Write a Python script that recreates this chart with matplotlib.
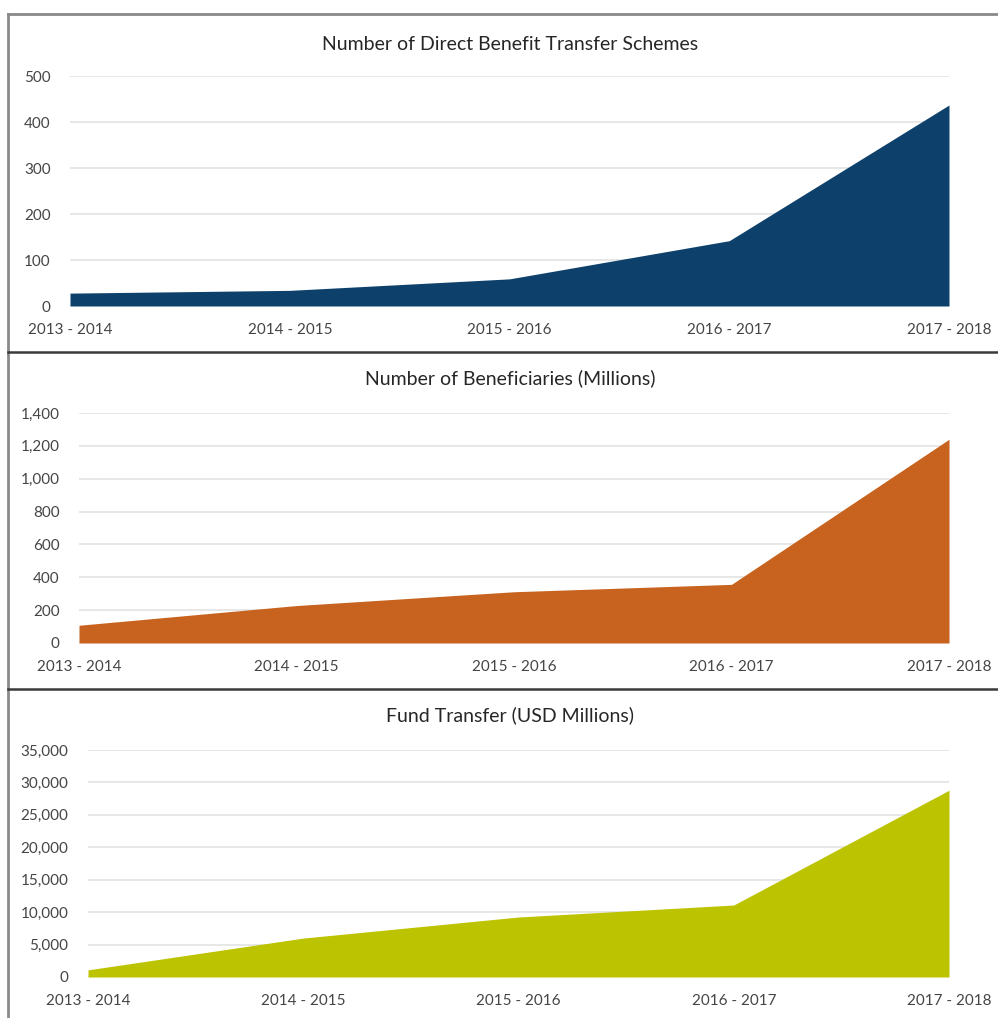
import numpy as np
import matplotlib
matplotlib.use('Agg')
import matplotlib.pyplot as plt
from matplotlib.lines import Line2D
from matplotlib.ticker import FuncFormatter

plt.rcParams['font.family'] = ['Lato', 'DejaVu Sans']

years = ['2013 - 2014', '2014 - 2015', '2015 - 2016', '2016 - 2017', '2017 - 2018']
schemes = [28, 34, 59, 142, 437]
beneficiaries = [108, 228, 312, 357, 1240]
fund_transfer = [1100, 6000, 9250, 11100, 28800]

titles = ['Number of Direct Benefit Transfer Schemes',
          'Number of Beneficiaries (Millions)',
          'Fund Transfer (USD Millions)']
colors = ['#0D416B', '#C8631F', '#BCC300']
ylims = [500, 1400, 35000]
ysteps = [100, 200, 5000]

W, H = 998, 1018
fig = plt.figure(figsize=(W / 100, H / 100), dpi=100)

# axes boxes in pixels: left, zero line, top gridline
boxes = [(70, 306, 76), (79, 643, 413), (88, 977, 750)]
title_y = [45, 378, 715]

x = np.arange(len(years))
for i, vals in enumerate([schemes, beneficiaries, fund_transfer]):
    left, y0, y1 = boxes[i]
    ax = fig.add_axes([left / W, 1 - y0 / H, (949 - left) / W, (y0 - y1) / H])
    ax.fill_between(x, 0, vals, color=colors[i], linewidth=0, zorder=3)
    ax.set_xlim(0, len(years) - 1)
    ax.set_ylim(0, ylims[i])
    ax.set_yticks(np.arange(0, ylims[i] + 1, ysteps[i]))
    ax.yaxis.set_major_formatter(FuncFormatter(lambda v, p: f'{int(v):,}'))
    ax.set_xticks(x)
    ax.set_xticklabels(years)
    ax.grid(axis='y', color='#e3e3e3', linewidth=1.2, zorder=0)
    for s in ax.spines.values():
        s.set_visible(False)
    ax.tick_params(axis='both', length=0, labelsize=11, colors='#454545')
    ax.tick_params(axis='y', pad=14)
    ax.tick_params(axis='x', pad=12)
    fig.text(510 / W, 1 - title_y[i] / H, titles[i], ha='center', va='center',
             fontsize=14, color='#262626')

# frame lines around the panels
fig.add_artist(Line2D([8 / W, 1], [1 - 14 / H] * 2, color='#8a8a8a', linewidth=2))
fig.add_artist(Line2D([8 / W] * 2, [0, 1 - 14 / H], color='#8a8a8a', linewidth=2))
for yy in [352, 689]:
    fig.add_artist(Line2D([8 / W, 1], [1 - yy / H] * 2, color='#3a3a3a', linewidth=1.8))

plt.savefig('out.png', dpi=100)
